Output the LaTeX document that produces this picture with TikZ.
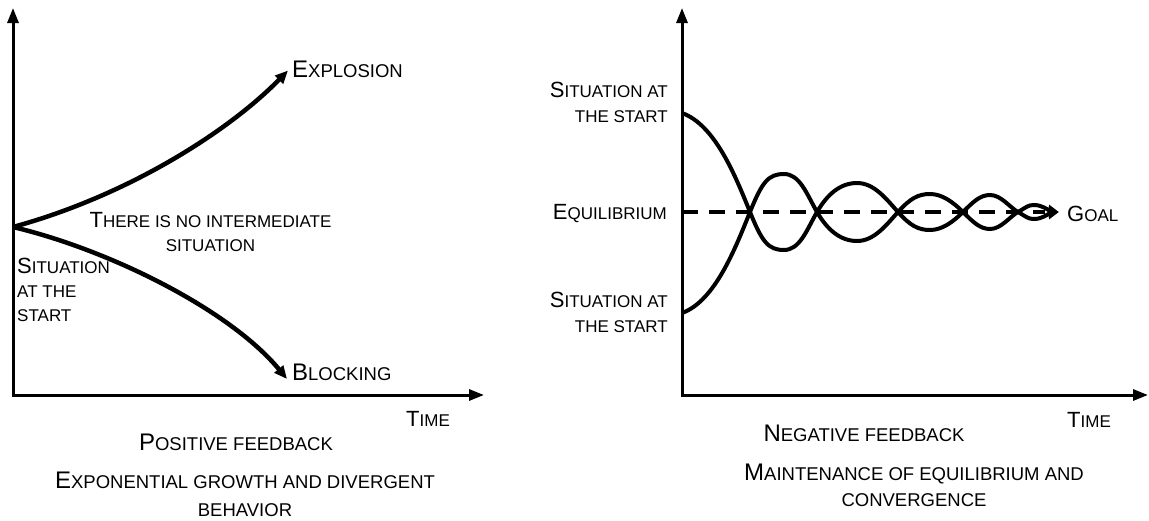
\documentclass[tikz,border=0pt]{standalone}
\usepackage{fontspec}
\setmainfont{Liberation Sans}
\usetikzlibrary{arrows.meta}
\newcommand\Bg[1]{{\fontsize{22}{22}\selectfont #1}}
\newcommand\Bh[1]{{\fontsize{24}{24}\selectfont #1}}
\begin{document}
\begin{tikzpicture}[x=1pt,y=-1pt,
  lbl/.style={inner sep=0pt, font=\fontsize{17}{25}\selectfont},
  lblL/.style={inner sep=0pt, font=\fontsize{18.5}{27}\selectfont},
  axis/.style={line width=3pt, {Triangle[length=15pt,width=11pt]}-{Triangle[length=15pt,width=11pt]}},
  curve/.style={line width=4.5pt, -{Triangle[length=13pt,width=11pt]}},
  osc/.style={line width=4pt, -{Triangle[length=11pt,width=10pt]}},
  eqline/.style={line width=4.5pt, dash pattern=on 16pt off 11pt}]
\useasboundingbox (0,0) rectangle (1149,520);

% ---------- left chart ----------
\coordinate (Ltop) at (13,8);
\coordinate (LO) at (13,395);
\coordinate (Lend) at (484,395);
\draw[axis] (Ltop) -- (LO) -- (Lend);

\coordinate (S) at (13,227);
\coordinate (ExpTip) at (288,70.5);
\coordinate (BlkTip) at (287,379);
\draw[curve] (S) .. controls (130,195) and (230,130) .. (ExpTip);
\draw[curve] (S) .. controls (110,250) and (230,310) .. (BlkTip);

\node[lblL, anchor=base west] (expl) at (292,77) {\Bh{E}XPLOSION};
\node[lblL, anchor=base west] (block) at (292,380.7) {\Bh{B}LOCKING};
\node[lbl, align=center, anchor=base, font=\fontsize{17}{24.5}\selectfont] (nointer) at (210.5,251.7) {\Bg{T}HERE IS NO INTERMEDIATE\\SITUATION};
\node[lbl, align=left, anchor=base west, font=\fontsize{17}{24.2}\selectfont] (start1) at (17,321.7) {\Bg{S}ITUATION\\AT THE\\START};
\node[lbl, anchor=base west] (time1) at (406,426) {\Bg{T}IME};
\node[lblL, anchor=base] (pos) at (236,450) {\Bh{P}OSITIVE FEEDBACK};
\node[lblL, align=center, anchor=base, font=\fontsize{18.5}{27.7}\selectfont] (expo) at (245,516) {\Bh{E}XPONENTIAL GROWTH AND DIVERGENT\\BEHAVIOR};

% ---------- right chart ----------
\coordinate (Rtop) at (682,8);
\coordinate (RO) at (682,395);
\coordinate (Rend) at (1148,395);
\draw[axis] (Rtop) -- (RO) -- (Rend);

\coordinate (EqA) at (682,212);
\coordinate (EqB) at (1045,212);
\draw[eqline] (EqA) -- (EqB);

\coordinate (U0) at (682,113);
\coordinate (L0) at (682,313);
\coordinate (GoalTip) at (1059,212);
\draw[osc] (U0) .. controls (715,125) and (735,175) .. (750,212)
  .. controls (762,241.6) and (768,250) .. (784,250)
  .. controls (800,250) and (807,229.3) .. (817,212)
  .. controls (827,194.7) and (840,183) .. (857,183)
  .. controls (874,183) and (886,198.6) .. (898,212)
  .. controls (910,225.4) and (918,230) .. (930,230)
  .. controls (942,230) and (953,222) .. (963,212)
  .. controls (973,202) and (980,195) .. (990,195)
  .. controls (1001,195) and (1009.3,207) .. (1018,212)
  .. controls (1026.7,217) and (1028,219) .. (1034,219)
  .. controls (1042,219) and (1048,214) .. (GoalTip);
\draw[osc] (L0) .. controls (715,301) and (735,249) .. (750,212)
  .. controls (762,182.4) and (768,174) .. (784,174)
  .. controls (800,174) and (807,194.7) .. (817,212)
  .. controls (827,229.3) and (840,241) .. (857,241)
  .. controls (874,241) and (886,225.4) .. (898,212)
  .. controls (910,198.6) and (918,194) .. (930,194)
  .. controls (942,194) and (953,202) .. (963,212)
  .. controls (973,222) and (980,229) .. (990,229)
  .. controls (1001,229) and (1009.3,217) .. (1018,212)
  .. controls (1026.7,207) and (1028,205) .. (1034,205)
  .. controls (1042,205) and (1048,210) .. (GoalTip);

\node[lbl, align=right, anchor=base east] (start2) at (668,122.7) {\Bg{S}ITUATION AT\\THE START};
\node[lbl, anchor=base east] (equi) at (667,219.3) {\Bg{E}QUILIBRIUM};
\node[lbl, align=right, anchor=base east] (start3) at (668,332.7) {\Bg{S}ITUATION AT\\THE START};
\node[lbl, anchor=base west] (goal) at (1067,221.7) {\Bg{G}OAL};
\node[lbl, anchor=base west] (time2) at (1067,427.3) {\Bg{T}IME};
\node[lblL, anchor=base] (neg) at (864,441.7) {\Bh{N}EGATIVE FEEDBACK};
\node[lblL, align=center, anchor=base, font=\fontsize{18.5}{26.7}\selectfont] (maint) at (914,506.7) {\Bh{M}AINTENANCE OF EQUILIBRIUM AND\\CONVERGENCE};
\end{tikzpicture}
\end{document}
